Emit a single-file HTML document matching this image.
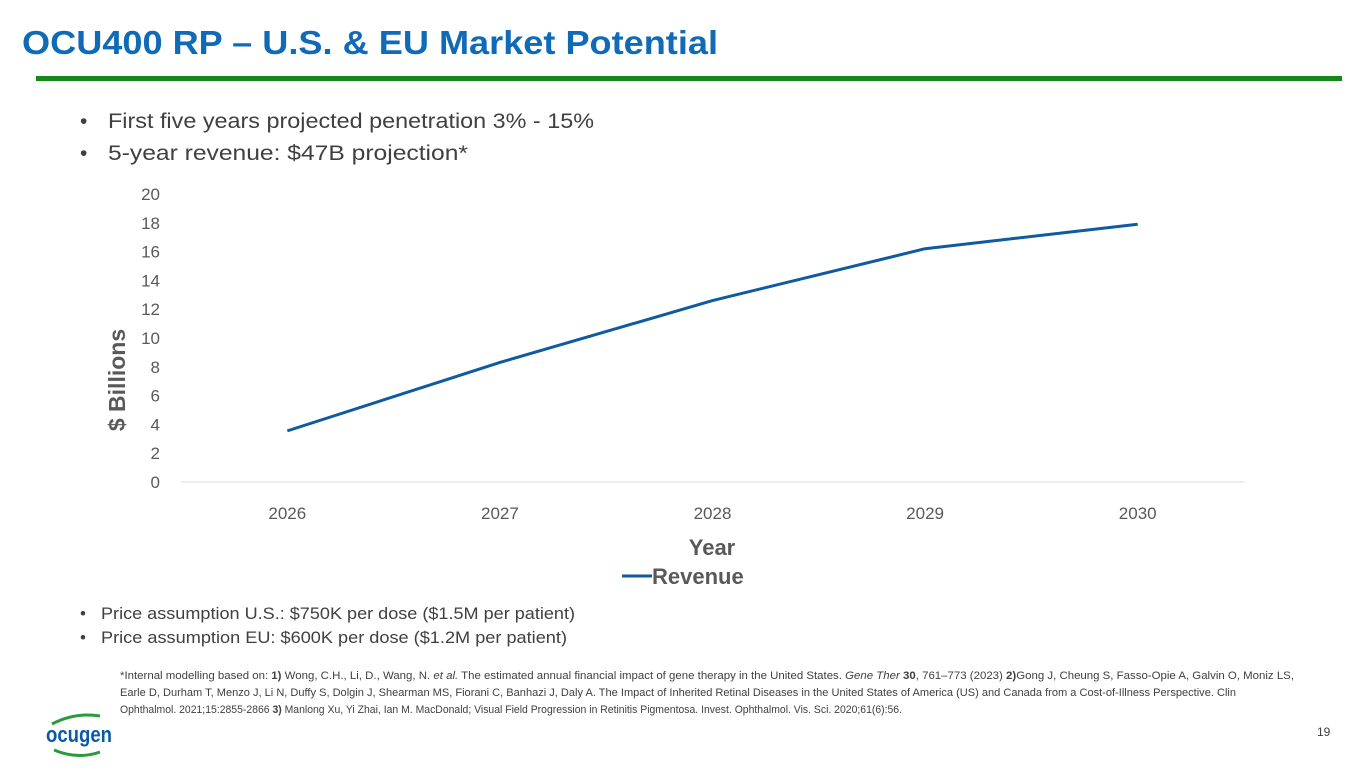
<!DOCTYPE html>
<html><head><meta charset="utf-8"><style>
html,body{margin:0;padding:0;background:#fff;}
svg{display:block;font-family:"Liberation Sans",sans-serif;}
</style></head><body>
<svg width="1365" height="768" viewBox="0 0 1365 768">
<text x="22" y="54" font-size="33" font-weight="bold" fill="#0f6ab8" textLength="696" lengthAdjust="spacingAndGlyphs">OCU400 RP – U.S. &amp; EU Market Potential</text>
<rect x="36" y="76" width="1306" height="5" fill="#17871a"/>
<g fill="#404040" font-size="21">
<text x="80" y="128">•</text><text x="108" y="128" textLength="486" lengthAdjust="spacingAndGlyphs">First five years projected penetration 3% - 15%</text>
<text x="80" y="160">•</text><text x="108" y="160" textLength="360" lengthAdjust="spacingAndGlyphs">5-year revenue: $47B projection*</text>
</g>
<g id="chart"></g>
<g fill="#404040" font-size="17">
<text x="80" y="619">•</text><text x="101" y="619" textLength="474" lengthAdjust="spacingAndGlyphs">Price assumption U.S.: $750K per dose ($1.5M per patient)</text>
<text x="80" y="643">•</text><text x="101" y="643" textLength="466" lengthAdjust="spacingAndGlyphs">Price assumption EU: $600K per dose ($1.2M per patient)</text>
</g>
<g fill="#404040" font-size="11">
<text x="120" y="679" textLength="1174" lengthAdjust="spacingAndGlyphs">*Internal modelling based on: <tspan font-weight="bold">1)</tspan> Wong, C.H., Li, D., Wang, N. <tspan font-style="italic">et al.</tspan> The estimated annual financial impact of gene therapy in the United States. <tspan font-style="italic">Gene Ther</tspan> <tspan font-weight="bold">30</tspan>, 761–773 (2023) <tspan font-weight="bold">2)</tspan>Gong J, Cheung S, Fasso-Opie A, Galvin O, Moniz LS,</text>
<text x="120" y="696" textLength="1116" lengthAdjust="spacingAndGlyphs">Earle D, Durham T, Menzo J, Li N, Duffy S, Dolgin J, Shearman MS, Fiorani C, Banhazi J, Daly A. The Impact of Inherited Retinal Diseases in the United States of America (US) and Canada from a Cost-of-Illness Perspective. Clin</text>
<text x="120" y="713" textLength="782" lengthAdjust="spacingAndGlyphs">Ophthalmol. 2021;15:2855-2866 <tspan font-weight="bold">3)</tspan> Manlong Xu, Yi Zhai, Ian M. MacDonald; Visual Field Progression in Retinitis Pigmentosa. Invest. Ophthalmol. Vis. Sci. 2020;61(6):56.</text>
</g>
<g>
<path d="M52 724 Q75 712 100 716" stroke="#2a9a3a" stroke-width="3" fill="none"/>
<text x="46" y="742" font-size="22" font-weight="bold" fill="#0a5aa8" textLength="66" lengthAdjust="spacingAndGlyphs">ocugen</text>
<path d="M54 750 Q78 760 100 752" stroke="#2a9a3a" stroke-width="3" fill="none"/>
</g>
<text x="1317" y="736" font-size="12" fill="#404040">19</text>
<script>
const categories=["2026","2027","2028","2029","2030"];
const revenue=[3.55,8.3,12.6,16.2,17.9];
const yTicks=[0,2,4,6,8,10,12,14,16,18,20];
const NS="http://www.w3.org/2000/svg";
const g=document.getElementById("chart");
const y0=482,yTop=194,yMax=20;
function yScale(v){return y0-(v/yMax)*(y0-yTop);}
const xL=181,xR=1244,band=(xR-xL)/categories.length;
function xScale(i){return xL+band*(i+0.5);}
function mk(tag,attrs){const e=document.createElementNS(NS,tag);for(const k in attrs)e.setAttribute(k,attrs[k]);g.appendChild(e);return e;}
const ax=mk("line",{x1:xL,x2:xR,y1:y0,y2:y0,stroke:"#d9d9d9","stroke-width":1});


yTicks.forEach(v=>{const t=mk("text",{x:160,y:yScale(v)+6,"text-anchor":"end","font-size":17,fill:"#595959"});t.textContent=v;

});
categories.forEach((c,i)=>{const t=mk("text",{x:xScale(i),y:519,"text-anchor":"middle","font-size":17,fill:"#595959"});t.textContent=c;

});
const pts=revenue.map((v,i)=>xScale(i)+","+yScale(v)).join(" ");
const pl=mk("polyline",{points:pts,fill:"none",stroke:"#0f5aa0","stroke-width":3,"stroke-linejoin":"round"});


const yt=mk("text",{x:0,y:0,"font-size":23,"font-weight":"bold",fill:"#595959","text-anchor":"middle",transform:"translate(125,380) rotate(-90)"});yt.textContent="$ Billions";


const xt=mk("text",{x:712,y:555,"font-size":22,"font-weight":"bold",fill:"#595959","text-anchor":"middle"});xt.textContent="Year";


const ll=mk("line",{x1:622,x2:652,y1:576,y2:576,stroke:"#0f5aa0","stroke-width":3});


const lt=mk("text",{x:652,y:584,"font-size":22,"font-weight":"bold",fill:"#595959"});lt.textContent="Revenue";


</script>
</svg>
</body></html>
